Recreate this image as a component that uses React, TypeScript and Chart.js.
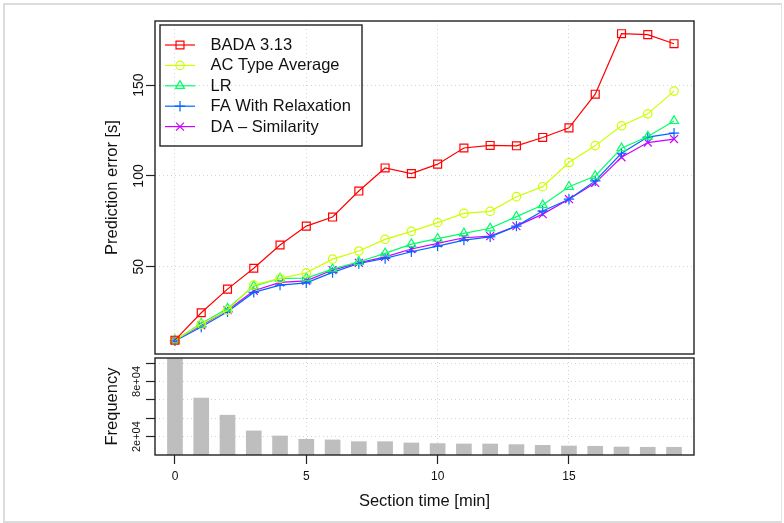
import React, { useEffect, useRef } from "react";
import { Chart, registerables } from "chart.js";

Chart.register(...registerables);

// ---------- data ----------
const sectionTimes = [0, 1, 2, 3, 4, 5, 6, 7, 8, 9, 10, 11, 12, 13, 14, 15, 16, 17, 18, 19];
const badaErr = [9.6, 24.7, 37.7, 49.2, 62, 72.4, 77.4, 91.7, 104.4, 101.3, 106.5, 115.4, 116.8, 116.6, 121.2, 126.5, 145.0, 178.3, 177.8, 172.8];
const acTypeErr = [9.6, 18.4, 26.1, 39.9, 43.6, 46.7, 54.2, 58.7, 65.1, 69.5, 74.3, 79.4, 80.5, 88.6, 94.1, 107.4, 116.7, 127.6, 134.2, 146.7];
const lrErr = [9.6, 18.8, 27.0, 39.4, 43.6, 43.8, 48.7, 52.8, 57.4, 62.5, 65.5, 68.4, 71.2, 77.6, 84.0, 94.1, 100.0, 115.3, 121.7, 130.3];
const faErr = [9.2, 16.9, 25.2, 35.9, 39.9, 41.2, 46.9, 51.8, 54.6, 58.3, 61.4, 64.7, 66.5, 72.4, 80.7, 87.2, 97.3, 112.5, 121.4, 123.6];
const daErr = [9.6, 17.8, 26.1, 36.8, 41.4, 42.3, 48.2, 52.2, 55.5, 59.8, 62.9, 66.0, 66.9, 72.4, 79.0, 87.2, 96.2, 110.3, 118.4, 120.3];
const freqCounts = [105000, 61900, 43300, 26200, 20700, 17100, 16400, 14500, 14500, 13100, 12400, 12000, 12000, 11300, 10500, 9800, 9500, 8700, 8400, 8400];

const seriesNames = ["BADA 3.13", "AC Type Average", "LR", "FA With Relaxation", "DA \u2013 Similarity"];
const seriesColors = ["#FF0000", "#CCFF00", "#00FF66", "#0066FF", "#CC00FF"];
const seriesMarkers = ["rect", "circle", "triangle", "cross", "crossRot"];
const markerRadii = [5.6, 4.2, 5.2, 5.2, 5.6];

const errTicks = [50, 100, 150];
const timeTicks = [0, 5, 10, 15];
const freqTicks = [20000, 40000, 60000, 80000, 100000];
const freqTickLabels = ["2e+04", "", "", "8e+04", ""];

const FONT = '"Liberation Sans", Arial, Helvetica, sans-serif';
const TEXT = "#111";
const GRID = "#d3d3d3";
const AXIS = "#222";

function drawMarker(ctx: CanvasRenderingContext2D, style: string, x: number, y: number, r: number) {
  ctx.beginPath();
  if (style === "rect") {
    const s = r * Math.SQRT1_2;
    ctx.rect(x - s, y - s, 2 * s, 2 * s);
  } else if (style === "circle") {
    ctx.arc(x, y, r, 0, Math.PI * 2);
  } else if (style === "triangle") {
    let a = 0;
    ctx.moveTo(x + Math.sin(a) * r, y - Math.cos(a) * r);
    a += (2 * Math.PI) / 3;
    ctx.lineTo(x + Math.sin(a) * r, y - Math.cos(a) * r);
    a += (2 * Math.PI) / 3;
    ctx.lineTo(x + Math.sin(a) * r, y - Math.cos(a) * r);
    ctx.closePath();
  } else if (style === "cross") {
    ctx.moveTo(x, y - r);
    ctx.lineTo(x, y + r);
    ctx.moveTo(x - r, y);
    ctx.lineTo(x + r, y);
  } else {
    const s = r * Math.SQRT1_2;
    ctx.moveTo(x - s, y - s);
    ctx.lineTo(x + s, y + s);
    ctx.moveTo(x - s, y + s);
    ctx.lineTo(x + s, y - s);
  }
  ctx.stroke();
}

function rotText(ctx: CanvasRenderingContext2D, text: string, x: number, y: number, font: string) {
  ctx.save();
  ctx.translate(x, y);
  ctx.rotate(-Math.PI / 2);
  ctx.font = font;
  ctx.fillStyle = TEXT;
  ctx.textAlign = "center";
  ctx.textBaseline = "middle";
  ctx.fillText(text, 0, 0);
  ctx.restore();
}

const topPlugin = {
  id: "topDecor",
  afterDraw(chart: any) {
    const ctx: CanvasRenderingContext2D = chart.ctx;
    const { left, top, right, bottom } = chart.chartArea;
    ctx.save();
    ctx.strokeStyle = AXIS;
    ctx.lineWidth = 1.4;
    ctx.strokeRect(left, top, right - left, bottom - top);
    const ys = chart.scales.y;
    errTicks.forEach((v) => rotText(ctx, String(v), 139, ys.getPixelForValue(v), `14px ${FONT}`));
    rotText(ctx, "Prediction error [s]", 112, (top + bottom) / 2, `16.5px ${FONT}`);

    // legend
    const lx = 160, ly = 25, lw = 202, lh = 121;
    ctx.strokeStyle = AXIS;
    ctx.lineWidth = 1.4;
    ctx.strokeRect(lx, ly, lw, lh);
    seriesNames.forEach((name, i) => {
      const y = 45 + i * 20.4;
      ctx.strokeStyle = seriesColors[i];
      ctx.lineWidth = 1.2;
      ctx.beginPath();
      ctx.moveTo(165, y);
      ctx.lineTo(195, y);
      ctx.stroke();
      drawMarker(ctx, seriesMarkers[i], 180, y, markerRadii[i]);
      ctx.fillStyle = TEXT;
      ctx.font = `16.5px ${FONT}`;
      ctx.textAlign = "left";
      ctx.textBaseline = "middle";
      ctx.fillText(name, 210.5, y + 0.5);
    });
    ctx.restore();
  },
};

const bottomPlugin = {
  id: "bottomDecor",
  afterDraw(chart: any) {
    const ctx: CanvasRenderingContext2D = chart.ctx;
    const { left, top, right, bottom } = chart.chartArea;
    ctx.save();
    ctx.strokeStyle = AXIS;
    ctx.lineWidth = 1.4;
    ctx.strokeRect(left, top, right - left, bottom - top);
    const ys = chart.scales.y;
    const xs = chart.scales.x;
    freqTicks.forEach((v, i) => {
      if (freqTickLabels[i]) rotText(ctx, freqTickLabels[i], 137, ys.getPixelForValue(v), `11px ${FONT}`);
    });
    rotText(ctx, "Frequency", 112, (top + bottom) / 2, `16.5px ${FONT}`);
    ctx.fillStyle = TEXT;
    ctx.font = `12px ${FONT}`;
    ctx.textAlign = "center";
    ctx.textBaseline = "middle";
    timeTicks.forEach((v) => ctx.fillText(String(v), xs.getPixelForValue(v), 477));
    ctx.font = `16.5px ${FONT}`;
    ctx.fillText("Section time [min]", (left + right) / 2, 501);
    ctx.restore();
  },
};

function gridOpts(drawTicks: boolean) {
  return {
    color: GRID,
    lineWidth: 1,
    drawTicks,
    tickLength: 9,
    tickColor: AXIS,
    tickWidth: 1.2,
  };
}

export default function App() {
  const topRef = useRef<HTMLCanvasElement>(null);
  const botRef = useRef<HTMLCanvasElement>(null);

  useEffect(() => {
    const seriesData = [badaErr, acTypeErr, lrErr, faErr, daErr];
    const topChart = new Chart(topRef.current!, {
      type: "line",
      data: {
        datasets: seriesData.map((vals, i) => ({
          label: seriesNames[i],
          data: vals.map((v, j) => ({ x: sectionTimes[j], y: v })),
          borderColor: seriesColors[i],
          borderWidth: 1.2,
          pointStyle: seriesMarkers[i] as any,
          pointRadius: markerRadii[i],
          pointBorderColor: seriesColors[i],
          pointBackgroundColor: "rgba(0,0,0,0)",
          pointBorderWidth: 1.2,
          tension: 0,
          fill: false,
        })),
      },
      options: {
        responsive: false,
        animation: false,
        devicePixelRatio: 1,
        layout: { padding: { left: 155, top: 21, right: 90, bottom: 169 } },
        plugins: { legend: { display: false }, tooltip: { enabled: false } },
        scales: {
          x: {
            type: "linear",
            min: -0.76,
            max: 19.76,
            afterFit: (s: any) => { s.height = 0; },
            afterBuildTicks: (s: any) => { s.ticks = timeTicks.map((v) => ({ value: v })); },
            ticks: { display: false },
            grid: gridOpts(false),
            border: { display: false, dash: [1, 3] },
          },
          y: {
            type: "linear",
            min: 2.0,
            max: 185.3,
            afterFit: (s: any) => { s.width = 0; },
            afterBuildTicks: (s: any) => { s.ticks = errTicks.map((v) => ({ value: v })); },
            ticks: { display: false },
            grid: gridOpts(true),
            border: { display: false, dash: [1, 3] },
          },
        },
      } as any,
      plugins: [topPlugin],
    });

    const botChart = new Chart(botRef.current!, {
      type: "bar",
      data: {
        datasets: [
          {
            label: "Frequency",
            data: freqCounts.map((v, j) => ({ x: sectionTimes[j], y: v })),
            backgroundColor: "#BEBEBE",
            borderWidth: 0,
            barThickness: 15,
          },
        ],
      },
      options: {
        responsive: false,
        animation: false,
        devicePixelRatio: 1,
        layout: { padding: { left: 155, top: 358, right: 90, bottom: 68 } },
        plugins: { legend: { display: false }, tooltip: { enabled: false } },
        scales: {
          x: {
            type: "linear",
            min: -0.76,
            max: 19.76,
            offset: false,
            afterFit: (s: any) => { s.height = 0; },
            afterBuildTicks: (s: any) => { s.ticks = timeTicks.map((v) => ({ value: v })); },
            ticks: { display: false },
            grid: { ...gridOpts(true), offset: false },
            border: { display: false, dash: [1, 3] },
          },
          y: {
            type: "linear",
            min: 0,
            max: 105500,
            afterFit: (s: any) => { s.width = 0; },
            afterBuildTicks: (s: any) => { s.ticks = freqTicks.map((v) => ({ value: v })); },
            ticks: { display: false },
            grid: gridOpts(true),
            border: { display: false, dash: [1, 3] },
          },
        },
      } as any,
      plugins: [bottomPlugin],
    });

    return () => {
      topChart.destroy();
      botChart.destroy();
    };
  }, []);

  const canvasStyle: React.CSSProperties = { position: "absolute", left: 0, top: 0, width: 784, height: 523 };
  return (
    <div style={{ position: "fixed", left: 0, top: 0, width: 784, height: 523, background: "#fff", overflow: "hidden" }}>
      <div style={{ position: "absolute", left: 3, top: 3, width: 779, height: 520, border: "2px solid #dcdcdc", borderRight: "1px solid #e4e4e4", boxSizing: "border-box" }} />
      <canvas ref={topRef} width={784} height={523} style={canvasStyle} />
      <canvas ref={botRef} width={784} height={523} style={canvasStyle} />
    </div>
  );
}
